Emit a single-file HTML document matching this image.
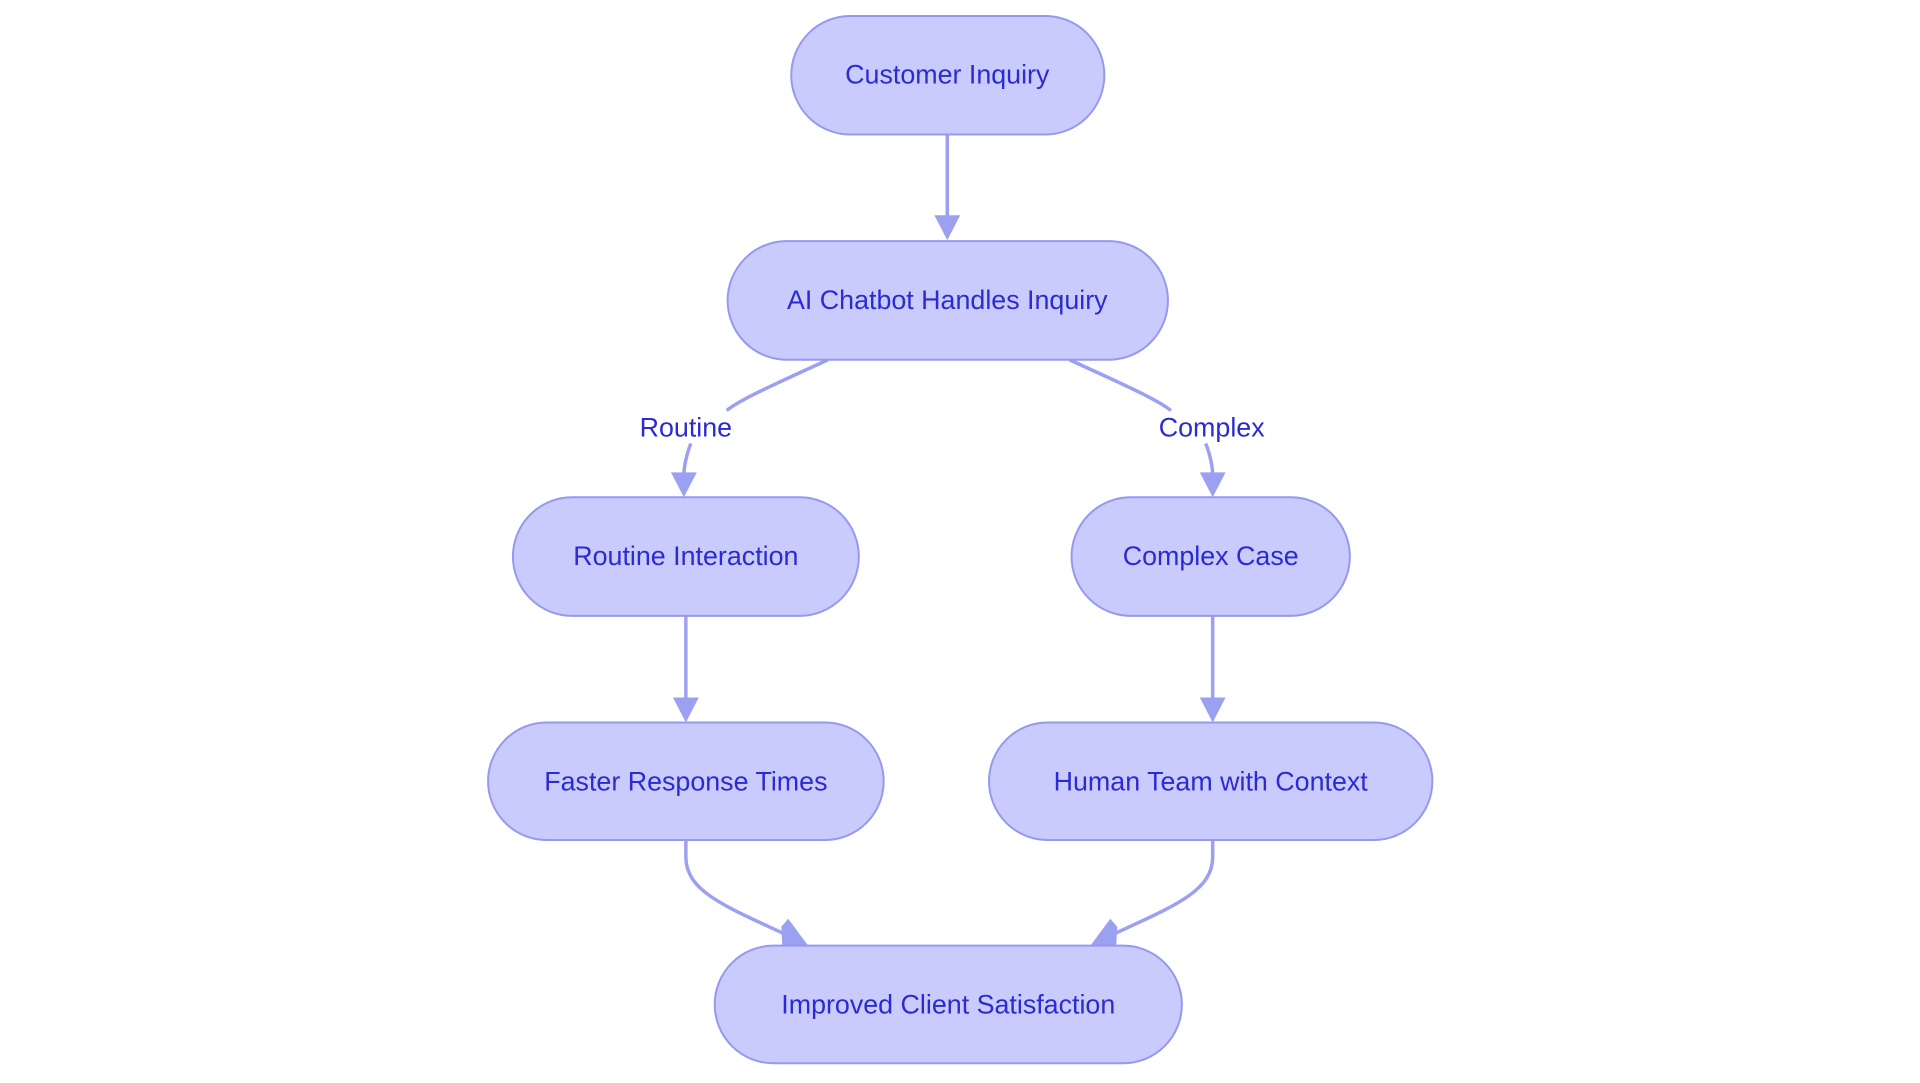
<!DOCTYPE html>
<html><head><meta charset="utf-8"><style>
html,body{margin:0;padding:0;background:#fff;}
svg{display:block}
text{font-family:"Liberation Sans",sans-serif;font-size:27px;fill:#2b2bd1;text-anchor:middle;dominant-baseline:central}
.n{fill:#c9cbfd;stroke:#9599ef;stroke-width:2}
.e{fill:none;stroke:#9ca0f0;stroke-width:3.5}
.a{fill:#9ca0f0}
</style></head><body>
<svg width="1920" height="1083" viewBox="0 0 1920 1083">
<g transform="matrix(0.994 0 0 0.9965 1 0)">
<!-- edges -->
<path class="e" d="M952 135 L952 222"/>
<polygon class="a" points="939,216 965,216 952,241"/>
<path class="e" d="M832 361 C780 385 745 400 730 412"/>
<path class="e" d="M694 445 C689 458 687 468 687 478"/>
<polygon class="a" points="674,474 700,474 687,499"/>
<path class="e" d="M1075 361 C1127 385 1162 400 1177 412"/>
<path class="e" d="M1212 445 C1217 458 1219 468 1219 478"/>
<polygon class="a" points="1206,474 1232,474 1219,499"/>
<path class="e" d="M689 618 L689 706"/>
<polygon class="a" points="676,700 702,700 689,725"/>
<path class="e" d="M1219 618 L1219 706"/>
<polygon class="a" points="1206,700 1232,700 1219,725"/>
<path class="e" d="M689 843 L689 860 C689 895 730 910 790 938"/>
<polygon class="a" points="785,930 792,922 812,949 786,949"/>
<path class="e" d="M1219 843 L1219 860 C1219 895 1178 910 1118 938"/>
<polygon class="a" points="1123,930 1116,922 1096,949 1122,949"/>
<!-- labels -->
<text x="689" y="429">Routine</text>
<text x="1218" y="429">Complex</text>
<!-- nodes -->
<rect class="n" x="795" y="16" width="315" height="119" rx="59.5"/>
<text x="952" y="75">Customer Inquiry</text>
<rect class="n" x="731" y="242" width="443" height="119" rx="59.5"/>
<text x="952" y="301">AI Chatbot Handles Inquiry</text>
<rect class="n" x="515" y="499" width="348" height="119" rx="59.5"/>
<text x="689" y="558">Routine Interaction</text>
<rect class="n" x="1077" y="499" width="280" height="119" rx="59.5"/>
<text x="1217" y="558">Complex Case</text>
<rect class="n" x="490" y="725" width="398" height="118" rx="59"/>
<text x="689" y="784">Faster Response Times</text>
<rect class="n" x="994" y="725" width="446" height="118" rx="59"/>
<text x="1217" y="784">Human Team with Context</text>
<rect class="n" x="718" y="949" width="470" height="118" rx="59"/>
<text x="953" y="1008">Improved Client Satisfaction</text>
</g>
</svg>
</body></html>
